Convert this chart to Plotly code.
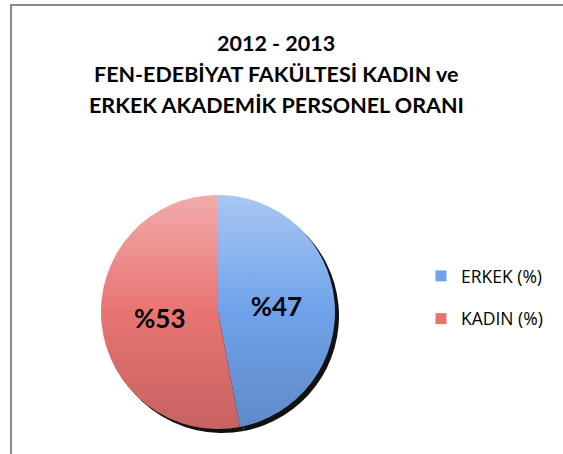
import base64
import plotly.graph_objects as go

TITLE_LINES = ["2012 - 2013", "FEN-EDEBİYAT FAKÜLTESİ KADIN ve", "ERKEK AKADEMİK PERSONEL ORANI"]
LABELS = ["ERKEK (%)", "KADIN (%)"]
VALUES = [47, 53]
COLORS = ["#6fa2ea", "#e87472"]

W, H = 563, 454


def px_x(p):
    return p / W


def px_y(p):
    return 1 - p / H


PIE_X = [px_x(101), px_x(335)]
PIE_Y = [px_y(429), px_y(195)]

fig = go.Figure()

# shadow pie, offset a few pixels down-right
fig.add_trace(go.Pie(
    values=VALUES,
    sort=False,
    direction="clockwise",
    marker=dict(colors=["#111111", "#111111"], line=dict(width=0)),
    textinfo="none",
    hoverinfo="skip",
    showlegend=False,
    domain=dict(x=[px_x(105), px_x(339)], y=[px_y(433), px_y(199)]),
))

fig.add_trace(go.Pie(
    labels=LABELS,
    values=VALUES,
    text=["%" + str(v) for v in VALUES],
    texttemplate="%{text}",
    textposition="inside",
    insidetextorientation="horizontal",
    insidetextfont=dict(family="Lato", size=26, color="black", weight="bold"),
    sort=False,
    direction="clockwise",
    marker=dict(colors=COLORS, line=dict(width=0)),
    showlegend=False,
    domain=dict(x=PIE_X, y=PIE_Y),
))

# light-to-dark vertical shading over the pie (Excel style gradient)
svg = (
    '<svg xmlns="http://www.w3.org/2000/svg" width="100" height="100">'
    '<defs><linearGradient id="g" x1="0" y1="0" x2="0" y2="1">'
    '<stop offset="0" stop-color="#fff" stop-opacity="0.4"/>'
    '<stop offset="0.5" stop-color="#fff" stop-opacity="0"/>'
    '<stop offset="0.5" stop-color="#000" stop-opacity="0"/>'
    '<stop offset="1" stop-color="#000" stop-opacity="0.15"/>'
    '</linearGradient></defs>'
    '<circle cx="50" cy="50" r="50" fill="url(#g)"/></svg>'
)
fig.add_layout_image(
    source="data:image/svg+xml;base64," + base64.b64encode(svg.encode()).decode(),
    xref="paper", yref="paper", x=PIE_X[0], y=PIE_Y[1],
    sizex=PIE_X[1] - PIE_X[0], sizey=PIE_Y[1] - PIE_Y[0],
    sizing="stretch", xanchor="left", yanchor="top", layer="above",
)

# legend entries as separate groups so the gap can match
for lab, col in zip(LABELS, COLORS):
    fig.add_trace(go.Scatter(
        x=[None], y=[None], mode="markers", name=lab, legendgroup=lab,
        marker=dict(symbol="square", size=11, color=col),
    ))

for i, line in enumerate(TITLE_LINES):
    fig.add_annotation(
        text="<b>" + line + "</b>", x=px_x(276), y=px_y(43 + 31 * i),
        xref="paper", yref="paper", showarrow=False, yanchor="middle",
        font=dict(family="Lato", size=21.5, color="black"),
    )

fig.add_shape(type="rect", xref="paper", yref="paper",
              x0=px_x(11), x1=1.1, y0=-0.1, y1=px_y(5),
              line=dict(color="#8a8a8a", width=2))

fig.update_layout(
    width=W, height=H,
    margin=dict(l=0, r=0, t=0, b=0),
    paper_bgcolor="white",
    plot_bgcolor="white",
    xaxis=dict(visible=False),
    yaxis=dict(visible=False),
    legend=dict(x=px_x(421), y=px_y(258), xanchor="left", yanchor="top",
                tracegroupgap=17, font=dict(family="Open Sans", size=17.5, color="black")),
)

fig.write_html("out.html", config={"displayModeBar": False},
               post_script="document.body.style.margin = '0';")
